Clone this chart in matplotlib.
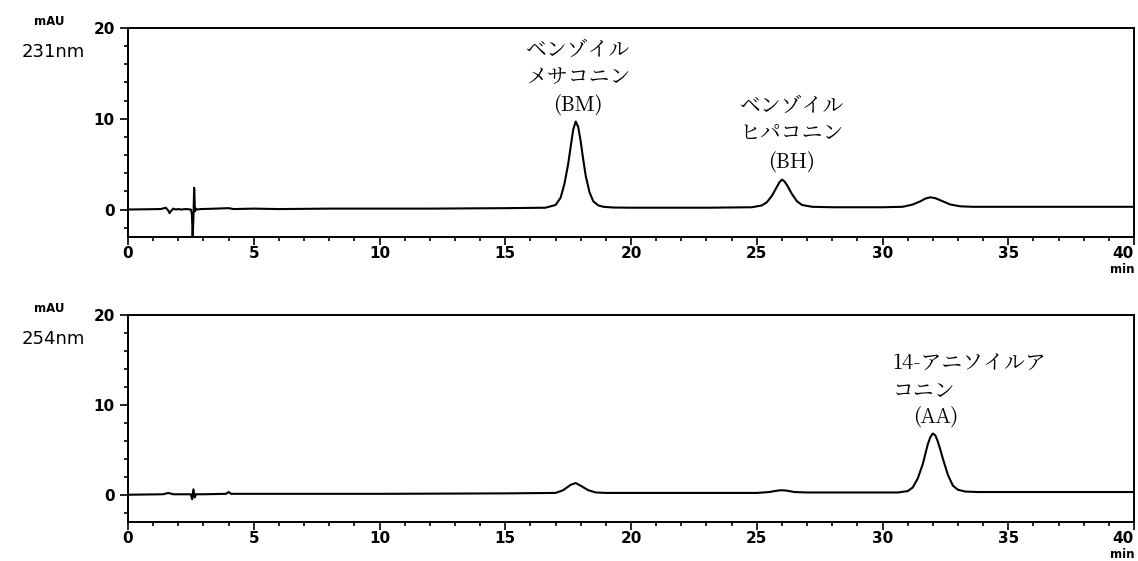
import matplotlib.pyplot as plt
from matplotlib.ticker import MultipleLocator

plt.rcParams['font.family'] = ['DejaVu Sans']

# 231 nm trace (time in min, absorbance in mAU)
t231 = [0, 1.3, 1.5, 1.6, 1.65, 1.7, 1.8, 1.9, 2.0, 2.1, 2.3, 2.5, 2.54, 2.57,
        2.6, 2.63, 2.66, 2.7, 2.75, 2.9, 3.5, 4.0, 4.2, 5.0, 6.0, 8.0, 10.0,
        12.0, 15.0, 16.6, 17.0, 17.2, 17.35, 17.5, 17.6, 17.7, 17.8, 17.9,
        18.0, 18.1, 18.2, 18.35, 18.5, 18.7, 18.9, 19.3, 20.0, 23.0, 24.8,
        25.2, 25.4, 25.6, 25.8, 25.9, 26.0, 26.1, 26.2, 26.4, 26.6, 26.8,
        27.2, 28.0, 30.0, 30.8, 31.2, 31.5, 31.7, 31.9, 32.1, 32.4, 32.7,
        33.1, 33.6, 35.0, 38.0, 40.0]
a231 = [0, 0.05, 0.2, -0.1, -0.4, -0.2, 0.1, 0.0, 0.05, 0.0, 0.05, 0.0, -0.5,
        -3.0, -1.0, 2.4, -0.2, 0.1, 0.0, 0.05, 0.1, 0.15, 0.05, 0.1, 0.05,
        0.1, 0.1, 0.1, 0.15, 0.2, 0.5, 1.3, 2.8, 5.0, 6.9, 8.8, 9.7, 9.1,
        7.5, 5.5, 3.7, 1.9, 0.9, 0.45, 0.3, 0.22, 0.2, 0.2, 0.25, 0.45,
        0.8, 1.5, 2.5, 3.0, 3.3, 3.1, 2.7, 1.7, 0.9, 0.5, 0.3, 0.25, 0.25,
        0.3, 0.55, 0.9, 1.2, 1.35, 1.25, 0.9, 0.55, 0.35, 0.3, 0.3, 0.3, 0.3]

# 254 nm trace
t254 = [0, 1.4, 1.6, 1.8, 2.0, 2.5, 2.55, 2.6, 2.65, 2.7, 3.0, 3.9, 4.0, 4.1,
        5.0, 10.0, 15.0, 17.0, 17.3, 17.6, 17.8, 18.0, 18.3, 18.6, 19.0,
        20.0, 25.0, 25.5, 25.8, 26.0, 26.2, 26.5, 27.0, 28.0, 30.6, 31.0,
        31.2, 31.4, 31.6, 31.7, 31.8, 31.9, 32.0, 32.1, 32.2, 32.3, 32.4,
        32.6, 32.8, 33.0, 33.3, 33.8, 35.0, 40.0]
a254 = [0, 0.05, 0.2, 0.05, 0.05, 0.05, -0.5, 0.6, -0.3, 0.05, 0.05, 0.1,
        0.3, 0.1, 0.1, 0.1, 0.15, 0.2, 0.5, 1.1, 1.3, 1.0, 0.5, 0.25, 0.2,
        0.2, 0.2, 0.3, 0.45, 0.5, 0.45, 0.3, 0.25, 0.25, 0.25, 0.4, 0.8,
        1.8, 3.4, 4.5, 5.6, 6.4, 6.8, 6.6, 5.9, 5.0, 4.0, 2.2, 1.0, 0.55,
        0.35, 0.3, 0.3, 0.3]

wavelengths = ['231nm', '254nm']
yticks = [0, 10, 20]
xticks = [0, 5, 10, 15, 20, 25, 30, 35, 40]

# peak labels: (text, x, y, ha)
labels231 = [('ベンゾイル\nメサコニン', 17.9, 13.4, 'center'),
             ('(BM)', 17.9, 10.3, 'center'),
             ('ベンゾイル\nヒパコニン', 26.4, 7.2, 'center'),
             ('(BH)', 26.4, 4.0, 'center')]
labels254 = [('14-アニソイルア\nコニン', 30.4, 10.3, 'left'),
             ('(AA)', 32.1, 7.3, 'center')]

fig = plt.figure(figsize=(11.38, 5.61), dpi=100)
ax1 = fig.add_axes([0.1125, 0.578, 0.884, 0.372])
ax2 = fig.add_axes([0.1125, 0.070, 0.884, 0.369])

jp = ['Noto Serif CJK JP', 'Noto Sans CJK JP', 'DejaVu Serif']

for ax, t, a, wl, labels in [(ax1, t231, a231, wavelengths[0], labels231),
                             (ax2, t254, a254, wavelengths[1], labels254)]:
    ax.plot(t, a, color='black', lw=1.5)
    ax.set_xlim(0, 40)
    ax.set_ylim(-3, 20)
    ax.set_xticks(xticks)
    ax.set_yticks(yticks)
    ax.xaxis.set_minor_locator(MultipleLocator(1))
    ax.yaxis.set_minor_locator(MultipleLocator(2))
    ax.tick_params(which='both', direction='out', width=1.2, colors='black')
    ax.tick_params(which='major', length=6, labelsize=11)
    ax.tick_params(which='minor', length=3)
    ax.tick_params(axis='x', pad=1)
    for lab in ax.get_xticklabels() + ax.get_yticklabels():
        lab.set_fontweight('bold')
    ax.get_xticklabels()[-1].set_horizontalalignment('right')
    for s in ax.spines.values():
        s.set_linewidth(1.4)
    ax.text(-0.078, 1.03, 'mAU', transform=ax.transAxes, fontsize=8.5,
            fontweight='bold', ha='center', va='center')
    ax.text(-0.106, 0.885, wl, transform=ax.transAxes, fontsize=13,
            ha='left', va='center')
    ax.text(1.0, -0.125, 'min', transform=ax.transAxes, fontsize=8.5,
            fontweight='bold', ha='right', va='top')
    for txt, x, y, ha in labels:
        ax.text(x, y, txt, family=jp, fontsize=15, ha=ha, va='bottom',
                multialignment=ha, linespacing=1.35)

fig.savefig('out.png', dpi=100)
